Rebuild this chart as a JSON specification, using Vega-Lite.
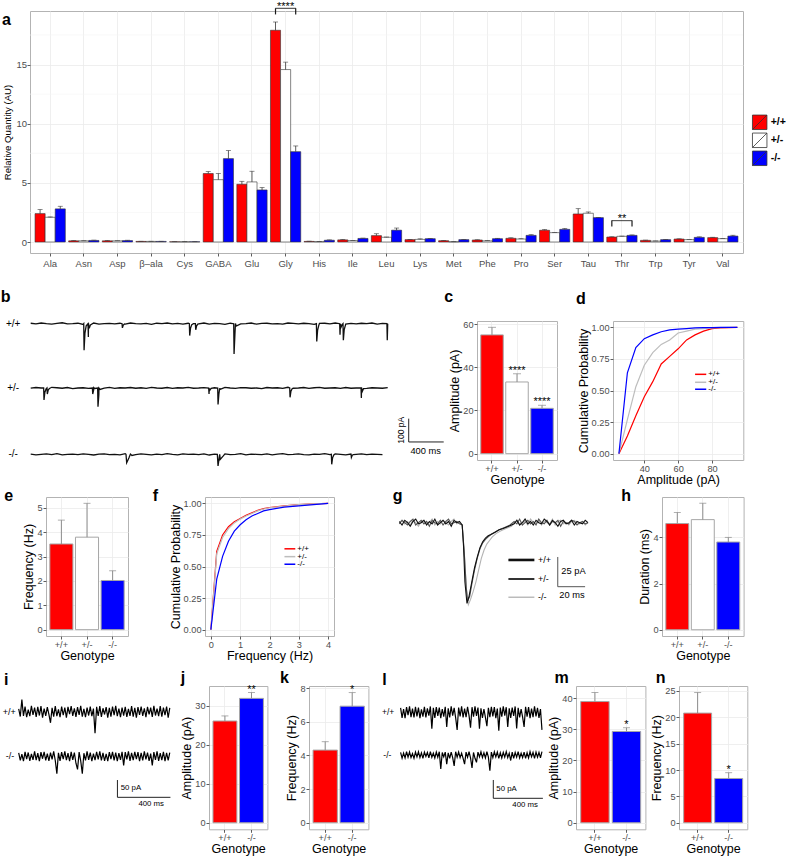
{
"$schema": "https://vega.github.io/schema/vega-lite/v6.json",
"background": "white",
"padding": {"left": 0, "top": 0, "right": 0, "bottom": 0},
"spacing": -10,
"config": {
  "font": "Liberation Sans",
  "view": {"stroke": null},
  "axis": {"domain": false, "tickColor": "#333333", "tickSize": 3, "tickWidth": 0.8, "labelColor": "#4d4d4d", "labelFontSize": 9.2, "labelOverlap": false, "titleColor": "#000000", "titleFontSize": 12.5, "titleFontWeight": "normal", "gridColor": "#ebebeb", "gridWidth": 0.8, "labelPadding": 1, "titlePadding": 1},
  "axisX": {"titlePadding": 0},
  "title": {"fontSize": 16, "fontWeight": "bold", "anchor": "start", "frame": "group", "color": "#000000"}
},
"resolve": {"scale": {"fill": "independent", "stroke": "independent", "color": "independent"}, "legend": {"fill": "independent", "stroke": "independent", "color": "independent"}},
"datasets": {
  "amino": [
    {"a":"Ala","g":"+/+","m":2.4,"e":2.74},{"a":"Ala","g":"+/-","m":2.09,"e":2.12},{"a":"Ala","g":"-/-","m":2.8,"e":3.02},
    {"a":"Asn","g":"+/+","m":0.1,"e":0.12},{"a":"Asn","g":"+/-","m":0.1,"e":0.11},{"a":"Asn","g":"-/-","m":0.13,"e":0.16},
    {"a":"Asp","g":"+/+","m":0.1,"e":0.13},{"a":"Asp","g":"+/-","m":0.1,"e":0.11},{"a":"Asp","g":"-/-","m":0.12,"e":0.15},
    {"a":"β–ala","g":"+/+","m":0.05,"e":0.06},{"a":"β–ala","g":"+/-","m":0.05,"e":0.06},{"a":"β–ala","g":"-/-","m":0.05,"e":0.06},
    {"a":"Cys","g":"+/+","m":0.02,"e":0.03},{"a":"Cys","g":"+/-","m":0.02,"e":0.03},{"a":"Cys","g":"-/-","m":0.02,"e":0.03},
    {"a":"GABA","g":"+/+","m":5.79,"e":5.96},{"a":"GABA","g":"+/-","m":5.27,"e":5.79},{"a":"GABA","g":"-/-","m":7.05,"e":7.73},
    {"a":"Glu","g":"+/+","m":4.88,"e":5.13},{"a":"Glu","g":"+/-","m":5.08,"e":5.98},{"a":"Glu","g":"-/-","m":4.4,"e":4.6},
    {"a":"Gly","g":"+/+","m":17.9,"e":18.6},{"a":"Gly","g":"+/-","m":14.58,"e":15.2},{"a":"Gly","g":"-/-","m":7.64,"e":8.12},
    {"a":"His","g":"+/+","m":0.05,"e":0.07},{"a":"His","g":"+/-","m":0.03,"e":0.04},{"a":"His","g":"-/-","m":0.15,"e":0.18},
    {"a":"Ile","g":"+/+","m":0.18,"e":0.22},{"a":"Ile","g":"+/-","m":0.12,"e":0.13},{"a":"Ile","g":"-/-","m":0.3,"e":0.33},
    {"a":"Leu","g":"+/+","m":0.54,"e":0.7},{"a":"Leu","g":"+/-","m":0.4,"e":0.42},{"a":"Leu","g":"-/-","m":1.0,"e":1.18},
    {"a":"Lys","g":"+/+","m":0.2,"e":0.22},{"a":"Lys","g":"+/-","m":0.22,"e":0.27},{"a":"Lys","g":"-/-","m":0.28,"e":0.3},
    {"a":"Met","g":"+/+","m":0.11,"e":0.13},{"a":"Met","g":"+/-","m":0.02,"e":0.03},{"a":"Met","g":"-/-","m":0.2,"e":0.22},
    {"a":"Phe","g":"+/+","m":0.17,"e":0.19},{"a":"Phe","g":"+/-","m":0.1,"e":0.12},{"a":"Phe","g":"-/-","m":0.28,"e":0.31},
    {"a":"Pro","g":"+/+","m":0.31,"e":0.36},{"a":"Pro","g":"+/-","m":0.25,"e":0.28},{"a":"Pro","g":"-/-","m":0.56,"e":0.62},
    {"a":"Ser","g":"+/+","m":0.99,"e":1.05},{"a":"Ser","g":"+/-","m":0.79,"e":0.8},{"a":"Ser","g":"-/-","m":1.07,"e":1.15},
    {"a":"Tau","g":"+/+","m":2.37,"e":2.82},{"a":"Tau","g":"+/-","m":2.43,"e":2.54},{"a":"Tau","g":"-/-","m":2.06,"e":2.08},
    {"a":"Thr","g":"+/+","m":0.42,"e":0.44},{"a":"Thr","g":"+/-","m":0.48,"e":0.5},{"a":"Thr","g":"-/-","m":0.56,"e":0.6},
    {"a":"Trp","g":"+/+","m":0.14,"e":0.16},{"a":"Trp","g":"+/-","m":0.08,"e":0.09},{"a":"Trp","g":"-/-","m":0.2,"e":0.22},
    {"a":"Tyr","g":"+/+","m":0.25,"e":0.27},{"a":"Tyr","g":"+/-","m":0.2,"e":0.21},{"a":"Tyr","g":"-/-","m":0.39,"e":0.44},
    {"a":"Val","g":"+/+","m":0.37,"e":0.4},{"a":"Val","g":"+/-","m":0.28,"e":0.29},{"a":"Val","g":"-/-","m":0.5,"e":0.57}
  ],
  "btr": [
    {"s":"+/+","t":[0,60,120,180,240,300,360,420,480,540,600,660,720,780,840,900,960,1020,1080,1140,1200,1260,1320,1380,1440,1500,1560,1620,1680,1740,1800,1860,1920,1980,2040,2100,2160,2220,2280,2340,2400,2460,2520,2580,2640,2700,2760,2820,2880,2940,3000,3060,3120,3180,3240,3300,3360,3420,3480,3540,3600,3660,3720,3780,3840,3900,3960,4020,4080],
     "v":[2,-1,3,0,-2,1,4,-1,0,2,-3,1,3,-2,0,1,-1,2,-2,3,0,-1,1,-3,2,0,3,-1,1,-2,2,0,-1,3,-2,1,0,-3,2,1,-1,0,3,-2,1,2,-1,0,-2,3,1,-1,2,0,-3,1,2,-1,3,0,-2,1,-1,2,0,3,-2,1,0]},
    {"s":"+/+","t":[606,610,620,634,655,659,669,683,1044,1048,1058,1072,1813,1817,1827,1841,1882,1886,1896,1910,2320,2324,2334,2348,3265,3269,3279,3293,3531,3535,3545,3559,3569,3573,3583,3597,4071,4075],
     "v":[0,-114,-40,-9,0,-57,-20,-5,0,-18,-6,-1,0,-51,-18,-4,0,-26,-9,-2,0,-130,-45,-10,0,-76,-27,-6,0,-47,-16,-4,0,-71,-25,-6,0,-71]},
    {"s":"+/-","t":[0,60,120,180,240,300,360,420,480,540,600,660,720,780,840,900,960,1020,1080,1140,1200,1260,1320,1380,1440,1500,1560,1620,1680,1740,1800,1860,1920,1980,2040,2100,2160,2220,2280,2340,2400,2460,2520,2580,2640,2700,2760,2820,2880,2940,3000,3060,3120,3180,3240,3300,3360,3420,3480,3540,3600,3660,3720,3780,3840,3900,3960,4020,4080],
     "v":[-1,2,0,-2,3,1,-1,2,-3,0,1,-2,2,0,-1,3,-2,1,0,2,-1,1,-2,3,0,-1,2,-2,1,0,3,-1,0,2,-2,1,-1,3,0,-2,2,1,-1,0,-3,2,0,1,-2,3,-1,0,2,-2,1,3,-1,0,1,-2,2,-1,0,3,-2,1,0,-1,2]},
    {"s":"+/-","t":[148,152,162,176,186,190,200,214,705,709,719,733,765,769,779,793,2034,2038,2048,2062,2137,2141,2151,2165,2960,2964,2974,2988,3775,3779,3789,3803],
     "v":[0,-51,-18,-4,0,-26,-9,-2,0,-26,-9,-2,0,-80,-28,-6,0,-26,-9,-2,0,-71,-25,-6,0,-40,-14,-3,0,-43,-15,-3]},
    {"s":"-/-","t":[0,60,120,180,240,300,360,420,480,540,600,660,720,780,840,900,960,1020,1080,1140,1200,1260,1320,1380,1440,1500,1560,1620,1680,1740,1800,1860,1920,1980,2040,2100,2160,2220,2280,2340,2400,2460,2520,2580,2640,2700,2760,2820,2880,2940,3000,3060,3120,3180,3240,3300,3360,3420,3480,3540,3600,3660,3720,3780,3840,3900,3960,4020],
     "v":[1,-2,0,2,-1,3,-2,0,1,-1,2,0,-3,1,2,-1,0,-2,3,1,-1,2,0,-2,1,-1,3,0,-2,2,0,1,-1,2,-3,1,0,2,-1,0,3,-2,1,0,-1,2,-2,1,3,-1,0,2,-1,-2,1,0,3,-1,2,0,-2,1,0,2,-1,1,0,-1]},
    {"s":"-/-","t":[1089,1097,1122,1157,2133,2141,2166,2201,3436,3440,3450,3464,3661,3665,3675,3689],
     "v":[0,-36,-16,-5,0,-50,-22,-7,0,-43,-15,-3,0,-13,-4,-1]}
  ],
  "gtr": [
    {"s":"-/-","t":[0,2,4,6,8,10,12,14,16,18,20,22,24,26,28,30,32,34,36,38,40,42,44,46,47.5,49,50.5,52,54,56,58,60,62,64,66,68,71,74,78,82,86,88,90,92,94,96,98,100,102,104,106,108,110,112,114,116,118,120,122,124,126,128,130,132,134,136,138],
     "v":[0,2,-1,1,-2,2,0,-3,1,2,-1,0,3,-2,1,-1,2,0,-2,1,3,-1,0,-2,-25,-55,-69,-65,-58,-50,-40,-30,-23,-18,-15,-12,-9,-7,-5,-3,2,-1,0,1,-2,3,0,-1,2,-2,1,0,-1,3,-2,1,2,-1,0,-2,1,2,0,-1,1,-2,0]},
    {"s":"+/-","t":[0,2,4,6,8,10,12,14,16,18,20,22,24,26,28,30,32,34,36,38,40,42,44,46,47.5,49,50,51.5,53,55,57,59,61,63,65,67,70,73,77,81,84,86,88,90,92,94,96,98,100,102,104,106,108,110,112,114,116,118,120,122,124,126,128,130,132,134,136,138],
     "v":[-1,2,0,-2,1,3,-2,0,2,-1,1,-3,2,0,-1,2,-2,1,3,-1,0,1,-1,-2,-25,-55,-66,-62,-52,-40,-30,-22,-17,-14,-12,-10,-8,-6,-4,-2,1,-1,3,-2,0,2,-1,1,-2,3,0,-1,2,-2,1,0,2,-3,1,0,-1,2,1,-2,0,1,-1,0]},
    {"s":"+/+","t":[0,2,4,6,8,10,12,14,16,18,20,22,24,26,28,30,32,34,36,38,40,42,44,46,47,48,49.5,51,53,55,57,59,61,63,65,67,70,73,76,80,84,86,88,90,92,94,96,98,100,102,104,106,108,110,112,114,116,118,120,122,124,126,128,130,132,134,136,138],
     "v":[1,-2,2,0,-3,1,3,-1,0,2,-2,1,-1,3,-2,0,2,-1,1,-3,2,0,1,-2,-20,-50,-68,-62,-50,-38,-29,-21,-16,-13,-11,-10,-8,-6,-5,-3,-1,2,-2,0,3,-1,1,-2,2,0,-1,3,1,-2,2,0,-3,1,2,-1,0,2,-2,1,0,-1,2,0]}
  ],
  "il": [
    {"t":[0,12,24,36,48,60,72,84,96,108,120,132,144,156,168,180,192,204,216,228,240,252,264,276,288,300,312,324,336,348,360,372,384,396,408,420,432,444,456,468,480,492,504,516,528,540,552,564,576,588,600,612,624,636,648,660,672,684,696,708,720,732,744,756,768,780,792,804,816,828,840,852,864,876,888,900,912,924,936,948,960,972,984,996,1008,1020,1032,1044,1056,1068,1080,1092,1104,1116,1128,1140],
     "ip":[8,-14,35,-12,15,-16,6,-13,17,-9,12,-15,14,-11,16,-17,9,-12,13,-8,-32,11,-14,16,-13,7,-16,15,-10,12,-17,14,-7,16,-12,10,-15,13,-9,17,-14,8,-16,12,-11,15,-13,9,-62,14,-12,16,-15,10,-8,13,-17,11,-14,15,-10,17,-13,9,-16,12,-11,14,-15,8,-12,16,-14,11,-17,13,-9,15,-12,10,-16,14,-8,12,-15,17,-11,9,-13,16,-14,12,-10,15,-17,11],
     "im":[10,-12,6,-14,13,-8,11,-13,7,-10,14,-11,9,-14,12,-7,13,-12,8,-13,11,-9,14,-12,-50,10,-13,12,-8,14,-11,9,-14,13,-10,11,-20,-38,12,-13,-50,9,-12,14,-10,11,-14,8,-11,13,-9,14,-12,10,-13,7,-14,12,-8,13,-12,11,-14,9,-10,13,-26,12,-9,14,-13,10,-11,13,-8,12,-14,10,-12,14,-9,11,-13,8,-26,12,-10,14,-13,9,-11,13,-14,10,-12,11],
     "lp":[12,-15,9,-16,14,-8,16,-13,10,-14,15,-11,13,-16,8,-12,15,-14,11,-9,16,-45,12,-15,14,-10,13,-16,9,-12,15,-40,11,-14,16,-9,12,-15,-48,13,-11,16,-14,10,-13,15,-9,-42,14,-12,16,-10,13,-45,11,-15,9,-14,-38,12,-13,15,-11,14,-16,10,-50,13,-12,16,-9,14,-40,11,-15,13,-10,16,-44,12,-14,9,-13,-40,15,-12,14,-16,10,-13,16,-11,12,-15,9,-48],
     "lm":[7,-9,5,-8,9,-6,8,-7,4,-9,8,-5,9,-7,6,-9,8,-4,7,-8,9,-6,5,-8,8,-6,9,-38,7,-5,8,-25,6,-9,8,-7,-30,9,-6,8,-7,5,-9,-25,8,-6,9,-8,-35,7,-9,-20,8,-5,9,-7,6,-8,9,-6,-43,8,-7,9,-5,8,-9,6,-8,7,-6,9,-7,5,-15,8,-9,7,-6,9,-8,5,-7,8,-9,6,-8,9,-5,7,-9,8,-6,7,-8,9]}
  ]
},
"vconcat": [
  {"spacing": 0, "bounds": "flush",
   "resolve": {"scale": {"fill": "independent", "stroke": "independent", "color": "independent"}, "legend": {"fill": "independent", "stroke": "independent", "color": "independent"}},
   "hconcat": [
    {"width": 713, "height": 242,
     "view": {"stroke": "#b3b3b3"},
     "title": {"text": "a", "dx": -28, "offset": -26.5},
     "layer": [
      {"data": {"values": [{"v": 2.5}, {"v": 7.5}, {"v": 12.5}, {"v": 17.5}]},
       "mark": {"type": "rule", "color": "#f4f4f4", "strokeWidth": 0.6},
       "encoding": {"y": {"field": "v", "type": "quantitative", "scale": {"domain": [-0.93, 19.53], "nice": false, "zero": false}, "axis": {"title": "Relative Quantity (AU)", "values": [0, 5, 10, 15], "tickCount": 20, "format": "d", "labelOverlap": false, "grid": true, "labelFontSize": 9.5, "titleFontSize": 9.6, "labelPadding": 0.5, "titlePadding": 3}}}},
      {"data": {"name": "amino"},
       "encoding": {
         "x": {"field": "a", "type": "nominal", "scale": {"domain": ["Ala","Asn","Asp","β–ala","Cys","GABA","Glu","Gly","His","Ile","Leu","Lys","Met","Phe","Pro","Ser","Tau","Thr","Trp","Tyr","Val"], "paddingInner": 0.1, "paddingOuter": 0.15}, "axis": {"title": null, "labelAngle": 0, "labelOverlap": false, "bandPosition": 0.5, "grid": true, "labelFontSize": 9.5, "labelPadding": 2.5}},
         "xOffset": {"field": "g", "type": "nominal", "scale": {"domain": ["+/+","+/-","-/-"], "paddingInner": 0, "paddingOuter": 0}}
       },
       "layer": [
        {"mark": {"type": "bar", "stroke": "#333333", "strokeWidth": 0.6},
         "encoding": {"y": {"field": "m", "type": "quantitative", "scale": {"domain": [-0.93, 19.53], "nice": false, "zero": false}},
           "fill": {"field": "g", "type": "nominal", "scale": {"domain": ["+/+","+/-","-/-"], "range": ["#ff0000","#ffffff","#0000ff"]},
             "legend": {"orient": "none", "legendX": 721.7, "legendY": 103.3, "title": null, "symbolType": "M-1,-1H1V1H-1ZM-1,1L1,-1", "symbolSize": 210, "symbolStrokeColor": "#333333", "symbolStrokeWidth": 0.8, "symbolOpacity": 1, "labelFontSize": 10.5, "labelFontWeight": "bold", "labelColor": "#000000", "labelOffset": 3, "rowPadding": 0, "padding": 0}}}},
        {"mark": {"type": "rule", "color": "#333333", "strokeWidth": 0.8},
         "encoding": {"y": {"field": "m", "type": "quantitative", "scale": {"domain": [-0.93, 19.53], "nice": false, "zero": false}}, "y2": {"field": "e"}}},
        {"mark": {"type": "tick", "color": "#333333", "size": 5, "thickness": 0.8},
         "encoding": {"y": {"field": "e", "type": "quantitative", "scale": {"domain": [-0.93, 19.53], "nice": false, "zero": false}}}}
       ]},
      {"data": {"values": [{"a": "Gly", "g": "+/-", "y": 19.76}, {"a": "Thr", "g": "+/-", "y": 1.81}]},
       "mark": {"type": "tick", "color": "#1a1a1a", "size": 20.5, "thickness": 1.2},
       "encoding": {
         "x": {"field": "a", "type": "nominal", "scale": {"domain": ["Ala","Asn","Asp","β–ala","Cys","GABA","Glu","Gly","His","Ile","Leu","Lys","Met","Phe","Pro","Ser","Tau","Thr","Trp","Tyr","Val"], "paddingInner": 0.1, "paddingOuter": 0.15}},
         "xOffset": {"field": "g", "type": "nominal", "scale": {"domain": ["+/+","+/-","-/-"], "paddingInner": 0, "paddingOuter": 0}},
         "y": {"field": "y", "type": "quantitative", "scale": {"domain": [-0.93, 19.53], "nice": false, "zero": false}}}},
      {"data": {"values": [{"a": "Gly", "g": "+/+", "y": 19.24, "y2": 19.76}, {"a": "Gly", "g": "-/-", "y": 19.24, "y2": 19.76}, {"a": "Thr", "g": "+/+", "y": 1.3, "y2": 1.81}, {"a": "Thr", "g": "-/-", "y": 1.3, "y2": 1.81}]},
       "mark": {"type": "rule", "color": "#1a1a1a", "strokeWidth": 1.2},
       "encoding": {
         "x": {"field": "a", "type": "nominal", "scale": {"domain": ["Ala","Asn","Asp","β–ala","Cys","GABA","Glu","Gly","His","Ile","Leu","Lys","Met","Phe","Pro","Ser","Tau","Thr","Trp","Tyr","Val"], "paddingInner": 0.1, "paddingOuter": 0.15}},
         "xOffset": {"field": "g", "type": "nominal", "scale": {"domain": ["+/+","+/-","-/-"], "paddingInner": 0, "paddingOuter": 0}},
         "y": {"field": "y", "type": "quantitative", "scale": {"domain": [-0.93, 19.53], "nice": false, "zero": false}}, "y2": {"field": "y2"}}},
      {"data": {"values": [{"a": "Gly", "g": "+/-", "y": 19.61, "s": "****"}, {"a": "Thr", "g": "+/-", "y": 1.71, "s": "**"}]},
       "mark": {"type": "text", "baseline": "alphabetic", "fontSize": 11, "color": "#000000"},
       "encoding": {
         "x": {"field": "a", "type": "nominal", "scale": {"domain": ["Ala","Asn","Asp","β–ala","Cys","GABA","Glu","Gly","His","Ile","Leu","Lys","Met","Phe","Pro","Ser","Tau","Thr","Trp","Tyr","Val"], "paddingInner": 0.1, "paddingOuter": 0.15}},
         "xOffset": {"field": "g", "type": "nominal", "scale": {"domain": ["+/+","+/-","-/-"], "paddingInner": 0, "paddingOuter": 0}},
         "y": {"field": "y", "type": "quantitative", "scale": {"domain": [-0.93, 19.53], "nice": false, "zero": false}}, "text": {"field": "s"}}}
     ]},
    {"width": 1, "height": 286.4, "mark": "point", "data": {"values": []}}
   ]},
  {"spacing": 0, "bounds": "flush",
   "resolve": {"scale": {"fill": "independent", "stroke": "independent", "color": "independent"}, "legend": {"fill": "independent", "stroke": "independent", "color": "independent"}},
   "hconcat": [
    {"width": 446.7, "height": 139,
     "title": {"text": "b", "dx": -29.3, "offset": 13.6},
     "layer": [
      {"data": {"name": "btr"}, "transform": [{"flatten": ["t", "v"]}, {"filter": "datum.s === '+/+'"}],
       "mark": {"type": "line", "color": "#111111", "strokeWidth": 1.3, "clip": false},
       "encoding": {"x": {"field": "t", "type": "quantitative", "scale": {"domain": [-8, 5097], "nice": false, "zero": false}, "axis": null},
                    "y": {"field": "v", "type": "quantitative", "scale": {"domain": [-584.7, 11.6], "nice": false, "zero": false}, "axis": null}}},
      {"data": {"name": "btr"}, "transform": [{"flatten": ["t", "v"]}, {"filter": "datum.s === '+/-'"}],
       "mark": {"type": "line", "color": "#111111", "strokeWidth": 1.3, "clip": false},
       "encoding": {"x": {"field": "t", "type": "quantitative", "scale": {"domain": [-8, 5097], "nice": false, "zero": false}, "axis": null},
                    "y": {"field": "v", "type": "quantitative", "scale": {"domain": [-308.9, 287.4], "nice": false, "zero": false}, "axis": null}}},
      {"data": {"name": "btr"}, "transform": [{"flatten": ["t", "v"]}, {"filter": "datum.s === '-/-'"}],
       "mark": {"type": "line", "color": "#111111", "strokeWidth": 1.3, "clip": false},
       "encoding": {"x": {"field": "t", "type": "quantitative", "scale": {"domain": [-8, 5097], "nice": false, "zero": false}, "axis": null},
                    "y": {"field": "v", "type": "quantitative", "scale": {"domain": [-24.4, 571.9], "nice": false, "zero": false}, "axis": null}}},
      {"data": {"values": [{}]}, "mark": {"type": "text", "fontSize": 10, "baseline": "middle", "color": "#000000"},
       "encoding": {"x": {"datum": -200, "type": "quantitative", "scale": {"domain": [-8, 5097], "nice": false, "zero": false}, "axis": null},
                    "y": {"datum": 0, "type": "quantitative", "scale": {"domain": [-584.7, 11.6], "nice": false, "zero": false}, "axis": null}, "text": {"value": "+/+"}}},
      {"data": {"values": [{}]}, "mark": {"type": "text", "fontSize": 10, "baseline": "middle", "color": "#000000"},
       "encoding": {"x": {"datum": -200, "type": "quantitative", "scale": {"domain": [-8, 5097], "nice": false, "zero": false}, "axis": null},
                    "y": {"datum": 0, "type": "quantitative", "scale": {"domain": [-308.9, 287.4], "nice": false, "zero": false}, "axis": null}, "text": {"value": "+/-"}}},
      {"data": {"values": [{}]}, "mark": {"type": "text", "fontSize": 10, "baseline": "middle", "color": "#000000"},
       "encoding": {"x": {"datum": -200, "type": "quantitative", "scale": {"domain": [-8, 5097], "nice": false, "zero": false}, "axis": null},
                    "y": {"datum": 0, "type": "quantitative", "scale": {"domain": [-24.4, 571.9], "nice": false, "zero": false}, "axis": null}, "text": {"value": "-/-"}}},
      {"data": {"values": [{}]}, "mark": {"type": "rule", "color": "#222222", "strokeWidth": 1},
       "encoding": {"x": {"datum": 4320, "type": "quantitative", "scale": {"domain": [-8, 5097], "nice": false, "zero": false}, "axis": null},
                    "y": {"datum": 53, "type": "quantitative", "scale": {"domain": [-24.4, 571.9], "nice": false, "zero": false}, "axis": null}, "y2": {"datum": 153}}},
      {"data": {"values": [{}]}, "mark": {"type": "rule", "color": "#222222", "strokeWidth": 1},
       "encoding": {"x": {"datum": 4320, "type": "quantitative", "scale": {"domain": [-8, 5097], "nice": false, "zero": false}, "axis": null}, "x2": {"datum": 4720},
                    "y": {"datum": 53, "type": "quantitative", "scale": {"domain": [-24.4, 571.9], "nice": false, "zero": false}, "axis": null}}},
      {"data": {"values": [{}]}, "mark": {"type": "text", "fontSize": 8.5, "angle": 270, "baseline": "middle", "color": "#000000"},
       "encoding": {"x": {"datum": 4229, "type": "quantitative", "scale": {"domain": [-8, 5097], "nice": false, "zero": false}, "axis": null},
                    "y": {"datum": 103, "type": "quantitative", "scale": {"domain": [-24.4, 571.9], "nice": false, "zero": false}, "axis": null}, "text": {"value": "100 pA"}}},
      {"data": {"values": [{}]}, "mark": {"type": "text", "fontSize": 9.3, "baseline": "middle", "color": "#000000"},
       "encoding": {"x": {"datum": 4514, "type": "quantitative", "scale": {"domain": [-8, 5097], "nice": false, "zero": false}, "axis": null},
                    "y": {"datum": 14, "type": "quantitative", "scale": {"domain": [-24.4, 571.9], "nice": false, "zero": false}, "axis": null}, "text": {"value": "400 ms"}}}
     ],
     "resolve": {"scale": {"x": "independent", "y": "independent"}}},
    {"width": 80, "height": 139, "view": {"stroke": "#b3b3b3"},
     "title": {"text": "c", "dx": -32.7, "offset": 13.6},
     "data": {"values": [{"g": "+/+", "m": 55, "e": 58.5, "s": ""}, {"g": "+/-", "m": 33.2, "e": 37, "s": "****"}, {"g": "-/-", "m": 21, "e": 22.4, "s": "****"}]},
     "encoding": {"x": {"field": "g", "type": "nominal", "scale": {"domain": ["+/+","+/-","-/-"], "paddingInner": 0.1, "paddingOuter": 0.15}, "axis": {"title": "Genotype", "labelAngle": 0, "labelOverlap": false, "bandPosition": 0.5, "grid": true}}},
     "layer": [
      {"mark": {"type": "bar", "stroke": "#a6a6a6", "strokeWidth": 1},
       "encoding": {"y": {"field": "m", "type": "quantitative", "scale": {"domain": [-2.93, 61.43], "nice": false, "zero": false}, "axis": {"title": "Amplitude (pA)", "values": [0, 20, 40, 60], "tickCount": 20, "format": "d", "labelOverlap": false, "grid": true}},
                    "fill": {"field": "g", "type": "nominal", "scale": {"domain": ["+/+","+/-","-/-"], "range": ["#ff0000","#ffffff","#0000ff"]}, "legend": null}}},
      {"mark": {"type": "rule", "color": "#8c8c8c", "strokeWidth": 1}, "encoding": {"y": {"field": "m", "type": "quantitative"}, "y2": {"field": "e"}}},
      {"mark": {"type": "tick", "color": "#8c8c8c", "size": 8, "thickness": 1}, "encoding": {"y": {"field": "e", "type": "quantitative"}}},
      {"mark": {"type": "text", "baseline": "alphabetic", "fontSize": 11, "color": "#000000"}, "encoding": {"y": {"field": "e", "type": "quantitative"}, "text": {"field": "s"}}}
     ]},
    {"width": 56, "height": 175.9, "mark": "point", "data": {"values": []}},
    {"width": 130.3, "height": 139, "view": {"stroke": "#b3b3b3"},
     "title": {"text": "d", "dx": -37, "offset": 13.6},
     "layer": [
      {"data": {"values": [
         {"g": "+/+", "x": [25,30,35,40,45,50,55,60,65,70,75,80,85,90,95], "y": [0,0.14,0.30,0.45,0.57,0.71,0.77,0.83,0.90,0.94,0.97,0.99,0.995,0.998,1]},
         {"g": "+/-", "x": [25,30,35,40,45,50,55,60,65,70,75,80,85,90,95], "y": [0,0.27,0.53,0.70,0.80,0.865,0.90,0.955,0.97,0.985,0.99,0.995,0.998,1,1]},
         {"g": "-/-", "x": [25,30,35,40,45,50,55,60,65,70,75,80,85,90,95], "y": [0,0.64,0.84,0.91,0.94,0.965,0.98,0.985,0.99,0.995,0.997,0.998,1,1,1]}]},
       "transform": [{"flatten": ["x", "y"]}],
       "mark": {"type": "line", "strokeWidth": 1.2},
       "encoding": {
         "x": {"field": "x", "type": "quantitative", "scale": {"domain": [21.5, 98.5], "nice": false, "zero": false}, "axis": {"title": "Amplitude (pA)", "values": [40, 60, 80], "tickCount": 20, "format": "d", "labelOverlap": false, "grid": true, "labelFlush": false}},
         "y": {"field": "y", "type": "quantitative", "scale": {"domain": [-0.05, 1.05], "nice": false, "zero": false}, "axis": {"title": "Cumulative Probability", "values": [0, 0.25, 0.5, 0.75, 1], "tickCount": 20, "labelOverlap": false, "format": ".2f", "grid": true}},
         "stroke": {"field": "g", "type": "nominal", "scale": {"domain": ["+/+","+/-","-/-"], "range": ["#ff0000","#bdbdbd","#0000ff"]}, "legend": null}}},
      {"data": {"values": [{}]}, "mark": {"type": "rule", "color": "#ff0000", "strokeWidth": 1.5}, "encoding": {"x": {"datum": 70}, "x2": {"datum": 76.6}, "y": {"datum": 0.628}}},
      {"data": {"values": [{}]}, "mark": {"type": "rule", "color": "#bdbdbd", "strokeWidth": 1.5}, "encoding": {"x": {"datum": 70}, "x2": {"datum": 76.6}, "y": {"datum": 0.565}}},
      {"data": {"values": [{}]}, "mark": {"type": "rule", "color": "#0000ff", "strokeWidth": 1.5}, "encoding": {"x": {"datum": 70}, "x2": {"datum": 76.6}, "y": {"datum": 0.51}}},
      {"data": {"values": [{}]}, "mark": {"type": "text", "align": "left", "baseline": "middle", "fontSize": 8, "color": "#000000"}, "encoding": {"x": {"datum": 77.8}, "y": {"datum": 0.628}, "text": {"value": "+/+"}}},
      {"data": {"values": [{}]}, "mark": {"type": "text", "align": "left", "baseline": "middle", "fontSize": 8, "color": "#000000"}, "encoding": {"x": {"datum": 77.8}, "y": {"datum": 0.565}, "text": {"value": "+/-"}}},
      {"data": {"values": [{}]}, "mark": {"type": "text", "align": "left", "baseline": "middle", "fontSize": 8, "color": "#000000"}, "encoding": {"x": {"datum": 77.8}, "y": {"datum": 0.51}, "text": {"value": "-/-"}}}
     ]}
   ]},
  {"spacing": 0, "bounds": "flush",
   "resolve": {"scale": {"fill": "independent", "stroke": "independent", "color": "independent"}, "legend": {"fill": "independent", "stroke": "independent", "color": "independent"}},
   "hconcat": [
    {"width": 15.7, "height": 181.4, "mark": "point", "data": {"values": []}},
    {"width": 82, "height": 139, "view": {"stroke": "#b3b3b3"},
     "title": {"text": "e", "dx": -41.7, "offset": -6.9},
     "data": {"values": [{"g": "+/+", "m": 3.52, "e": 4.5}, {"g": "+/-", "m": 3.8, "e": 5.19}, {"g": "-/-", "m": 2.02, "e": 2.42}]},
     "encoding": {"x": {"field": "g", "type": "nominal", "scale": {"domain": ["+/+","+/-","-/-"], "paddingInner": 0.1, "paddingOuter": 0.15}, "axis": {"title": "Genotype", "labelAngle": 0, "labelOverlap": false, "bandPosition": 0.5, "grid": true}}},
     "layer": [
      {"mark": {"type": "bar", "stroke": "#a6a6a6", "strokeWidth": 1},
       "encoding": {"y": {"field": "m", "type": "quantitative", "scale": {"domain": [-0.26, 5.45], "nice": false, "zero": false}, "axis": {"title": "Frequency (Hz)", "values": [0, 1, 2, 3, 4, 5], "tickCount": 20, "format": "d", "labelOverlap": false, "grid": true}},
                    "fill": {"field": "g", "type": "nominal", "scale": {"domain": ["+/+","+/-","-/-"], "range": ["#ff0000","#ffffff","#0000ff"]}, "legend": null}}},
      {"mark": {"type": "rule", "color": "#8c8c8c", "strokeWidth": 1}, "encoding": {"y": {"field": "m", "type": "quantitative"}, "y2": {"field": "e"}}},
      {"mark": {"type": "tick", "color": "#8c8c8c", "size": 7, "thickness": 1}, "encoding": {"y": {"field": "e", "type": "quantitative"}}}
     ]},
    {"width": 77, "height": 1, "mark": "point", "data": {"values": []}},
    {"width": 129, "height": 139, "view": {"stroke": "#b3b3b3"},
     "title": {"text": "f", "dx": -52.3, "offset": -6.9},
     "layer": [
      {"data": {"values": [
         {"g": "+/+", "x": [0,0.2,0.4,0.6,0.8,1,1.2,1.4,1.6,1.8,2,2.5,3,3.5,4], "y": [0,0.62,0.75,0.815,0.855,0.88,0.905,0.925,0.945,0.958,0.967,0.98,0.99,0.995,1]},
         {"g": "+/-", "x": [0,0.2,0.4,0.6,0.8,1,1.2,1.4,1.6,1.8,2,2.5,3,3.5,4], "y": [0,0.60,0.73,0.80,0.845,0.875,0.90,0.92,0.94,0.955,0.965,0.978,0.99,0.995,1]},
         {"g": "-/-", "x": [0,0.2,0.4,0.6,0.8,1,1.2,1.4,1.6,1.8,2,2.5,3,3.5,4], "y": [0,0.40,0.58,0.70,0.78,0.83,0.87,0.90,0.92,0.94,0.95,0.97,0.98,0.99,1]}]},
       "transform": [{"flatten": ["x", "y"]}],
       "mark": {"type": "line", "strokeWidth": 1.2},
       "encoding": {
         "x": {"field": "x", "type": "quantitative", "scale": {"domain": [-0.2, 4.2], "nice": false, "zero": false}, "axis": {"title": "Frequency (Hz)", "values": [0, 1, 2, 3, 4], "tickCount": 20, "format": "d", "labelOverlap": false, "grid": true, "labelFlush": false}},
         "y": {"field": "y", "type": "quantitative", "scale": {"domain": [-0.05, 1.05], "nice": false, "zero": false}, "axis": {"title": "Cumulative Probability", "values": [0, 0.25, 0.5, 0.75, 1], "tickCount": 20, "labelOverlap": false, "format": ".2f", "grid": true}},
         "stroke": {"field": "g", "type": "nominal", "scale": {"domain": ["+/+","+/-","-/-"], "range": ["#ff0000","#bdbdbd","#0000ff"]}, "legend": null}}},
      {"data": {"values": [{}]}, "mark": {"type": "rule", "color": "#ff0000", "strokeWidth": 1.5}, "encoding": {"x": {"datum": 2.51}, "x2": {"datum": 2.88}, "y": {"datum": 0.64}}},
      {"data": {"values": [{}]}, "mark": {"type": "rule", "color": "#bdbdbd", "strokeWidth": 1.5}, "encoding": {"x": {"datum": 2.51}, "x2": {"datum": 2.88}, "y": {"datum": 0.578}}},
      {"data": {"values": [{}]}, "mark": {"type": "rule", "color": "#0000ff", "strokeWidth": 1.5}, "encoding": {"x": {"datum": 2.51}, "x2": {"datum": 2.88}, "y": {"datum": 0.518}}},
      {"data": {"values": [{}]}, "mark": {"type": "text", "align": "left", "baseline": "middle", "fontSize": 8, "color": "#000000"}, "encoding": {"x": {"datum": 2.95}, "y": {"datum": 0.64}, "text": {"value": "+/+"}}},
      {"data": {"values": [{}]}, "mark": {"type": "text", "align": "left", "baseline": "middle", "fontSize": 8, "color": "#000000"}, "encoding": {"x": {"datum": 2.95}, "y": {"datum": 0.578}, "text": {"value": "+/-"}}},
      {"data": {"values": [{}]}, "mark": {"type": "text", "align": "left", "baseline": "middle", "fontSize": 8, "color": "#000000"}, "encoding": {"x": {"datum": 2.95}, "y": {"datum": 0.518}, "text": {"value": "-/-"}}}
     ]},
    {"width": 57, "height": 1, "mark": "point", "data": {"values": []}},
    {"width": 260, "height": 139,
     "title": {"text": "g", "dx": 1.7, "offset": -6.9},
     "layer": [
      {"data": {"name": "gtr"}, "transform": [{"flatten": ["t", "v"]}, {"filter": "datum.s === '-/-'"}],
       "mark": {"type": "line", "color": "#b3b3b3", "strokeWidth": 1.1},
       "encoding": {"x": {"field": "t", "type": "quantitative", "scale": {"domain": [-6.07, 184.1], "nice": false, "zero": false}, "axis": null},
                    "y": {"field": "v", "type": "quantitative", "scale": {"domain": [-95.4, 21.6], "nice": false, "zero": false}, "axis": null}}},
      {"data": {"name": "gtr"}, "transform": [{"flatten": ["t", "v"]}, {"filter": "datum.s === '+/-'"}],
       "mark": {"type": "line", "color": "#555555", "strokeWidth": 1.1},
       "encoding": {"x": {"field": "t", "type": "quantitative", "axis": null}, "y": {"field": "v", "type": "quantitative", "axis": null}}},
      {"data": {"name": "gtr"}, "transform": [{"flatten": ["t", "v"]}, {"filter": "datum.s === '+/+'"}],
       "mark": {"type": "line", "color": "#111111", "strokeWidth": 1.1},
       "encoding": {"x": {"field": "t", "type": "quantitative", "axis": null}, "y": {"field": "v", "type": "quantitative", "axis": null}}},
      {"data": {"values": [{}]}, "mark": {"type": "rule", "color": "#111111", "strokeWidth": 2.6}, "encoding": {"x": {"datum": 79.8, "axis": null}, "x2": {"datum": 98.8}, "y": {"datum": -31.4, "axis": null}}},
      {"data": {"values": [{}]}, "mark": {"type": "rule", "color": "#333333", "strokeWidth": 2}, "encoding": {"x": {"datum": 79.8, "axis": null}, "x2": {"datum": 98.8}, "y": {"datum": -47.4, "axis": null}}},
      {"data": {"values": [{}]}, "mark": {"type": "rule", "color": "#bbbbbb", "strokeWidth": 1.5}, "encoding": {"x": {"datum": 79.8, "axis": null}, "x2": {"datum": 98.8}, "y": {"datum": -62.8, "axis": null}}},
      {"data": {"values": [{}]}, "mark": {"type": "text", "align": "left", "baseline": "middle", "fontSize": 9, "color": "#000000"}, "encoding": {"x": {"datum": 101.5, "axis": null}, "y": {"datum": -31.4, "axis": null}, "text": {"value": "+/+"}}},
      {"data": {"values": [{}]}, "mark": {"type": "text", "align": "left", "baseline": "middle", "fontSize": 9, "color": "#000000"}, "encoding": {"x": {"datum": 101.5, "axis": null}, "y": {"datum": -47.4, "axis": null}, "text": {"value": "+/-"}}},
      {"data": {"values": [{}]}, "mark": {"type": "text", "align": "left", "baseline": "middle", "fontSize": 9, "color": "#000000"}, "encoding": {"x": {"datum": 101.5, "axis": null}, "y": {"datum": -62.8, "axis": null}, "text": {"value": "-/-"}}},
      {"data": {"values": [{}]}, "mark": {"type": "rule", "color": "#555555", "strokeWidth": 1}, "encoding": {"x": {"datum": 115.9, "axis": null}, "y": {"datum": -53.9, "axis": null}, "y2": {"datum": -28.9}}},
      {"data": {"values": [{}]}, "mark": {"type": "rule", "color": "#555555", "strokeWidth": 1}, "encoding": {"x": {"datum": 115.9, "axis": null}, "x2": {"datum": 135.9}, "y": {"datum": -53.9, "axis": null}}},
      {"data": {"values": [{}]}, "mark": {"type": "text", "align": "left", "baseline": "middle", "fontSize": 9.3, "color": "#000000"}, "encoding": {"x": {"datum": 118.5, "axis": null}, "y": {"datum": -40.4, "axis": null}, "text": {"value": "25 pA"}}},
      {"data": {"values": [{}]}, "mark": {"type": "text", "align": "left", "baseline": "middle", "fontSize": 9.3, "color": "#000000"}, "encoding": {"x": {"datum": 117, "axis": null}, "y": {"datum": -60.9, "axis": null}, "text": {"value": "20 ms"}}}
     ]},
    {"width": 10.7, "height": 1, "mark": "point", "data": {"values": []}},
    {"width": 81.6, "height": 139, "view": {"stroke": "#b3b3b3"},
     "title": {"text": "h", "dx": -40.7, "offset": -6.9},
     "data": {"values": [{"g": "+/+", "m": 4.6, "e": 5.08}, {"g": "+/-", "m": 4.77, "e": 5.48}, {"g": "-/-", "m": 3.8, "e": 4.0}]},
     "encoding": {"x": {"field": "g", "type": "nominal", "scale": {"domain": ["+/+","+/-","-/-"], "paddingInner": 0.1, "paddingOuter": 0.15}, "axis": {"title": "Genotype", "labelAngle": 0, "labelOverlap": false, "bandPosition": 0.5, "grid": true}}},
     "layer": [
      {"mark": {"type": "bar", "stroke": "#a6a6a6", "strokeWidth": 1},
       "encoding": {"y": {"field": "m", "type": "quantitative", "scale": {"domain": [-0.27, 5.75], "nice": false, "zero": false}, "axis": {"title": "Duration (ms)", "values": [0, 2, 4], "tickCount": 20, "format": "d", "labelOverlap": false, "grid": true}},
                    "fill": {"field": "g", "type": "nominal", "scale": {"domain": ["+/+","+/-","-/-"], "range": ["#ff0000","#ffffff","#0000ff"]}, "legend": null}}},
      {"mark": {"type": "rule", "color": "#8c8c8c", "strokeWidth": 1}, "encoding": {"y": {"field": "m", "type": "quantitative"}, "y2": {"field": "e"}}},
      {"mark": {"type": "tick", "color": "#8c8c8c", "size": 7, "thickness": 1}, "encoding": {"y": {"field": "e", "type": "quantitative"}}}
     ]}
   ]},
  {"spacing": 0, "bounds": "flush",
   "resolve": {"scale": {"fill": "independent", "stroke": "independent", "color": "independent"}, "legend": {"fill": "independent", "stroke": "independent", "color": "independent"}},
   "hconcat": [
    {"width": 179, "height": 143.3,
     "title": {"text": "i", "dx": -26, "offset": -2.4},
     "layer": [
      {"data": {"name": "il"}, "transform": [{"flatten": ["t", "ip", "im", "lp", "lm"]}],
       "mark": {"type": "line", "color": "#000000", "strokeWidth": 1.2, "clip": false},
       "encoding": {"x": {"field": "t", "type": "quantitative", "scale": {"domain": [85.3, 1436], "nice": false, "zero": false}, "axis": null},
                    "y": {"field": "ip", "type": "quantitative", "scale": {"domain": [-339.8, 74.3], "nice": false, "zero": false}, "axis": null}}},
      {"data": {"name": "il"}, "transform": [{"flatten": ["t", "ip", "im", "lp", "lm"]}],
       "mark": {"type": "line", "color": "#000000", "strokeWidth": 1.2, "clip": false},
       "encoding": {"x": {"field": "t", "type": "quantitative", "scale": {"domain": [85.3, 1436], "nice": false, "zero": false}, "axis": null},
                    "y": {"field": "im", "type": "quantitative", "scale": {"domain": [-210.9, 203.2], "nice": false, "zero": false}, "axis": null}}},
      {"data": {"values": [{}]}, "mark": {"type": "text", "fontSize": 9, "baseline": "middle", "color": "#000000"},
       "encoding": {"x": {"datum": -72, "type": "quantitative", "scale": {"domain": [85.3, 1436], "nice": false, "zero": false}, "axis": null},
                    "y": {"datum": 0, "type": "quantitative", "scale": {"domain": [-339.8, 74.3], "nice": false, "zero": false}, "axis": null}, "text": {"value": "+/+"}}},
      {"data": {"values": [{}]}, "mark": {"type": "text", "fontSize": 9, "baseline": "middle", "color": "#000000"},
       "encoding": {"x": {"datum": -66, "type": "quantitative", "scale": {"domain": [85.3, 1436], "nice": false, "zero": false}, "axis": null},
                    "y": {"datum": 0, "type": "quantitative", "scale": {"domain": [-210.9, 203.2], "nice": false, "zero": false}, "axis": null}, "text": {"value": "-/-"}}},
      {"data": {"values": [{}]}, "mark": {"type": "rule", "color": "#222222", "strokeWidth": 1},
       "encoding": {"x": {"datum": 745, "type": "quantitative", "scale": {"domain": [85.3, 1436], "nice": false, "zero": false}, "axis": null},
                    "y": {"datum": -118.5, "type": "quantitative", "scale": {"domain": [-210.9, 203.2], "nice": false, "zero": false}, "axis": null}, "y2": {"datum": -68.5}}},
      {"data": {"values": [{}]}, "mark": {"type": "rule", "color": "#222222", "strokeWidth": 1},
       "encoding": {"x": {"datum": 745, "type": "quantitative", "scale": {"domain": [85.3, 1436], "nice": false, "zero": false}, "axis": null}, "x2": {"datum": 1145},
                    "y": {"datum": -118.5, "type": "quantitative", "scale": {"domain": [-210.9, 203.2], "nice": false, "zero": false}, "axis": null}}},
      {"data": {"values": [{}]}, "mark": {"type": "text", "fontSize": 7.8, "align": "left", "baseline": "middle", "color": "#000000"},
       "encoding": {"x": {"datum": 770, "type": "quantitative", "scale": {"domain": [85.3, 1436], "nice": false, "zero": false}, "axis": null},
                    "y": {"datum": -91.6, "type": "quantitative", "scale": {"domain": [-210.9, 203.2], "nice": false, "zero": false}, "axis": null}, "text": {"value": "50 pA"}}},
      {"data": {"values": [{}]}, "mark": {"type": "text", "fontSize": 7.8, "baseline": "middle", "color": "#000000"},
       "encoding": {"x": {"datum": 1000, "type": "quantitative", "scale": {"domain": [85.3, 1436], "nice": false, "zero": false}, "axis": null},
                    "y": {"datum": -137.9, "type": "quantitative", "scale": {"domain": [-210.9, 203.2], "nice": false, "zero": false}, "axis": null}, "text": {"value": "400 ms"}}}
     ],
     "resolve": {"scale": {"x": "independent", "y": "independent"}}},
    {"width": 58.4, "height": 143.3, "view": {"stroke": "#b3b3b3"},
     "title": {"text": "j", "dx": -28.3, "offset": -2.4},
     "data": {"values": [{"g": "+/+", "m": 26.1, "e": 27.4, "s": ""}, {"g": "-/-", "m": 31.9, "e": 33.4, "s": "**"}]},
     "encoding": {"x": {"field": "g", "type": "nominal", "scale": {"domain": ["+/+","-/-"], "paddingInner": 0.1, "paddingOuter": 0.15}, "axis": {"title": "Genotype", "labelAngle": 0, "labelOverlap": false, "bandPosition": 0.5, "grid": true}}},
     "layer": [
      {"mark": {"type": "bar", "stroke": "#a6a6a6", "strokeWidth": 1},
       "encoding": {"y": {"field": "m", "type": "quantitative", "scale": {"domain": [-1.67, 35.07], "nice": false, "zero": false}, "axis": {"title": "Amplitude (pA)", "values": [0, 10, 20, 30], "tickCount": 20, "format": "d", "labelOverlap": false, "grid": true}},
                    "fill": {"field": "g", "type": "nominal", "scale": {"domain": ["+/+","-/-"], "range": ["#ff0000","#0000ff"]}, "legend": null}}},
      {"mark": {"type": "rule", "color": "#8c8c8c", "strokeWidth": 1}, "encoding": {"y": {"field": "m", "type": "quantitative"}, "y2": {"field": "e"}}},
      {"mark": {"type": "tick", "color": "#8c8c8c", "size": 7, "thickness": 1}, "encoding": {"y": {"field": "e", "type": "quantitative"}}},
      {"mark": {"type": "text", "baseline": "alphabetic", "fontSize": 11, "color": "#000000"}, "encoding": {"y": {"field": "e", "type": "quantitative"}, "text": {"field": "s"}}}
     ]},
    {"width": 40.6, "height": 169, "mark": "point", "data": {"values": []}},
    {"width": 59.4, "height": 143.3, "view": {"stroke": "#b3b3b3"},
     "title": {"text": "k", "dx": -29, "offset": -2.4},
     "data": {"values": [{"g": "+/+", "m": 4.32, "e": 4.82, "s": ""}, {"g": "-/-", "m": 6.93, "e": 7.74, "s": "*"}]},
     "encoding": {"x": {"field": "g", "type": "nominal", "scale": {"domain": ["+/+","-/-"], "paddingInner": 0.1, "paddingOuter": 0.15}, "axis": {"title": "Genotype", "labelAngle": 0, "labelOverlap": false, "bandPosition": 0.5, "grid": true}}},
     "layer": [
      {"mark": {"type": "bar", "stroke": "#a6a6a6", "strokeWidth": 1},
       "encoding": {"y": {"field": "m", "type": "quantitative", "scale": {"domain": [-0.39, 8.13], "nice": false, "zero": false}, "axis": {"title": "Frequency (Hz)", "values": [0, 2, 4, 6, 8], "tickCount": 20, "format": "d", "labelOverlap": false, "grid": true}},
                    "fill": {"field": "g", "type": "nominal", "scale": {"domain": ["+/+","-/-"], "range": ["#ff0000","#0000ff"]}, "legend": null}}},
      {"mark": {"type": "rule", "color": "#8c8c8c", "strokeWidth": 1}, "encoding": {"y": {"field": "m", "type": "quantitative"}, "y2": {"field": "e"}}},
      {"mark": {"type": "tick", "color": "#8c8c8c", "size": 7, "thickness": 1}, "encoding": {"y": {"field": "e", "type": "quantitative"}}},
      {"mark": {"type": "text", "baseline": "alphabetic", "fontSize": 11, "color": "#000000"}, "encoding": {"y": {"field": "e", "type": "quantitative"}, "text": {"field": "s"}}}
     ]},
    {"width": 206.6, "height": 143.3,
     "title": {"text": "l", "dx": 13.3, "offset": -2.4},
     "layer": [
      {"data": {"name": "il"}, "transform": [{"flatten": ["t", "ip", "im", "lp", "lm"]}],
       "mark": {"type": "line", "color": "#000000", "strokeWidth": 1.2, "clip": false},
       "encoding": {"x": {"field": "t", "type": "quantitative", "scale": {"domain": [-254.8, 1411.3], "nice": false, "zero": false}, "axis": null},
                    "y": {"field": "lp", "type": "quantitative", "scale": {"domain": [-319.4, 71.8], "nice": false, "zero": false}, "axis": null}}},
      {"data": {"name": "il"}, "transform": [{"flatten": ["t", "ip", "im", "lp", "lm"]}],
       "mark": {"type": "line", "color": "#000000", "strokeWidth": 1.2, "clip": false},
       "encoding": {"x": {"field": "t", "type": "quantitative", "scale": {"domain": [-254.8, 1411.3], "nice": false, "zero": false}, "axis": null},
                    "y": {"field": "lm", "type": "quantitative", "scale": {"domain": [-202.8, 188.4], "nice": false, "zero": false}, "axis": null}}},
      {"data": {"values": [{}]}, "mark": {"type": "text", "fontSize": 8.5, "baseline": "middle", "color": "#000000"},
       "encoding": {"x": {"datum": -101, "type": "quantitative", "scale": {"domain": [-254.8, 1411.3], "nice": false, "zero": false}, "axis": null},
                    "y": {"datum": 0, "type": "quantitative", "scale": {"domain": [-319.4, 71.8], "nice": false, "zero": false}, "axis": null}, "text": {"value": "+/+"}}},
      {"data": {"values": [{}]}, "mark": {"type": "text", "fontSize": 8.5, "baseline": "middle", "color": "#000000"},
       "encoding": {"x": {"datum": -107, "type": "quantitative", "scale": {"domain": [-254.8, 1411.3], "nice": false, "zero": false}, "axis": null},
                    "y": {"datum": 0, "type": "quantitative", "scale": {"domain": [-202.8, 188.4], "nice": false, "zero": false}, "axis": null}, "text": {"value": "-/-"}}},
      {"data": {"values": [{}]}, "mark": {"type": "rule", "color": "#222222", "strokeWidth": 1},
       "encoding": {"x": {"datum": 747.6, "type": "quantitative", "scale": {"domain": [-254.8, 1411.3], "nice": false, "zero": false}, "axis": null},
                    "y": {"datum": -118.2, "type": "quantitative", "scale": {"domain": [-202.8, 188.4], "nice": false, "zero": false}, "axis": null}, "y2": {"datum": -68.2}}},
      {"data": {"values": [{}]}, "mark": {"type": "rule", "color": "#222222", "strokeWidth": 1},
       "encoding": {"x": {"datum": 747.6, "type": "quantitative", "scale": {"domain": [-254.8, 1411.3], "nice": false, "zero": false}, "axis": null}, "x2": {"datum": 1147.6},
                    "y": {"datum": -118.2, "type": "quantitative", "scale": {"domain": [-202.8, 188.4], "nice": false, "zero": false}, "axis": null}}},
      {"data": {"values": [{}]}, "mark": {"type": "text", "fontSize": 7.8, "align": "left", "baseline": "middle", "color": "#000000"},
       "encoding": {"x": {"datum": 772, "type": "quantitative", "scale": {"domain": [-254.8, 1411.3], "nice": false, "zero": false}, "axis": null},
                    "y": {"datum": -92.8, "type": "quantitative", "scale": {"domain": [-202.8, 188.4], "nice": false, "zero": false}, "axis": null}, "text": {"value": "50 pA"}}},
      {"data": {"values": [{}]}, "mark": {"type": "text", "fontSize": 7.8, "baseline": "middle", "color": "#000000"},
       "encoding": {"x": {"datum": 1004, "type": "quantitative", "scale": {"domain": [-254.8, 1411.3], "nice": false, "zero": false}, "axis": null},
                    "y": {"datum": -135.7, "type": "quantitative", "scale": {"domain": [-202.8, 188.4], "nice": false, "zero": false}, "axis": null}, "text": {"value": "400 ms"}}}
     ],
     "resolve": {"scale": {"x": "independent", "y": "independent"}}},
    {"width": 69.4, "height": 143.3, "view": {"stroke": "#b3b3b3"},
     "title": {"text": "m", "dx": -21.6, "offset": -2.4},
     "data": {"values": [{"g": "+/+", "m": 38.9, "e": 41.8, "s": ""}, {"g": "-/-", "m": 29.3, "e": 30.5, "s": "*"}]},
     "encoding": {"x": {"field": "g", "type": "nominal", "scale": {"domain": ["+/+","-/-"], "paddingInner": 0.1, "paddingOuter": 0.15}, "axis": {"title": "Genotype", "labelAngle": 0, "labelOverlap": false, "bandPosition": 0.5, "grid": true}}},
     "layer": [
      {"mark": {"type": "bar", "stroke": "#a6a6a6", "strokeWidth": 1},
       "encoding": {"y": {"field": "m", "type": "quantitative", "scale": {"domain": [-2.09, 43.89], "nice": false, "zero": false}, "axis": {"title": "Amplitude (pA)", "values": [0, 10, 20, 30, 40], "tickCount": 20, "format": "d", "labelOverlap": false, "grid": true}},
                    "fill": {"field": "g", "type": "nominal", "scale": {"domain": ["+/+","-/-"], "range": ["#ff0000","#0000ff"]}, "legend": null}}},
      {"mark": {"type": "rule", "color": "#8c8c8c", "strokeWidth": 1}, "encoding": {"y": {"field": "m", "type": "quantitative"}, "y2": {"field": "e"}}},
      {"mark": {"type": "tick", "color": "#8c8c8c", "size": 7, "thickness": 1}, "encoding": {"y": {"field": "e", "type": "quantitative"}}},
      {"mark": {"type": "text", "baseline": "alphabetic", "fontSize": 11, "color": "#000000"}, "encoding": {"y": {"field": "e", "type": "quantitative"}, "text": {"field": "s"}}}
     ]},
    {"width": 32.3, "height": 1, "mark": "point", "data": {"values": []}},
    {"width": 68.3, "height": 143.3, "view": {"stroke": "#b3b3b3"},
     "title": {"text": "n", "dx": -23.3, "offset": -2.4},
     "data": {"values": [{"g": "+/+", "m": 20.8, "e": 24.7, "s": ""}, {"g": "-/-", "m": 8.4, "e": 9.5, "s": "*"}]},
     "encoding": {"x": {"field": "g", "type": "nominal", "scale": {"domain": ["+/+","-/-"], "paddingInner": 0.1, "paddingOuter": 0.15}, "axis": {"title": "Genotype", "labelAngle": 0, "labelOverlap": false, "bandPosition": 0.5, "grid": true}}},
     "layer": [
      {"mark": {"type": "bar", "stroke": "#a6a6a6", "strokeWidth": 1},
       "encoding": {"y": {"field": "m", "type": "quantitative", "scale": {"domain": [-1.24, 25.94], "nice": false, "zero": false}, "axis": {"title": "Frequency (Hz)", "values": [0, 5, 10, 15, 20, 25], "tickCount": 20, "format": "d", "labelOverlap": false, "grid": true}},
                    "fill": {"field": "g", "type": "nominal", "scale": {"domain": ["+/+","-/-"], "range": ["#ff0000","#0000ff"]}, "legend": null}}},
      {"mark": {"type": "rule", "color": "#8c8c8c", "strokeWidth": 1}, "encoding": {"y": {"field": "m", "type": "quantitative"}, "y2": {"field": "e"}}},
      {"mark": {"type": "tick", "color": "#8c8c8c", "size": 7, "thickness": 1}, "encoding": {"y": {"field": "e", "type": "quantitative"}}},
      {"mark": {"type": "text", "baseline": "alphabetic", "fontSize": 11, "color": "#000000"}, "encoding": {"y": {"field": "e", "type": "quantitative"}, "text": {"field": "s"}}}
     ]}
   ]}
]
}
